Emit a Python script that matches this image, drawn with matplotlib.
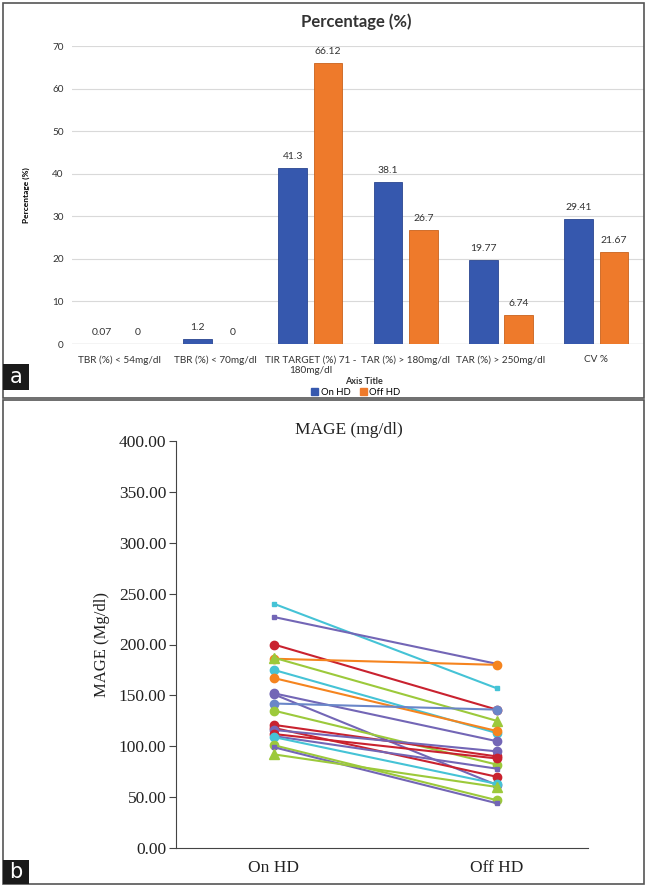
import numpy as np
import matplotlib.pyplot as plt
from matplotlib.patches import Rectangle, Patch

# top chart data
categories = ['TBR (%) < 54mg/dl', 'TBR (%) < 70mg/dl', 'TIR TARGET (%) 71 -\n180mg/dl',
              'TAR (%) > 180mg/dl', 'TAR (%) > 250mg/dl', 'CV %']
on_hd_pct = [0.07, 1.2, 41.3, 38.1, 19.77, 29.41]
off_hd_pct = [0, 0, 66.12, 26.7, 6.74, 21.67]
on_hd_lbl = ['0.07', '1.2', '41.3', '38.1', '19.77', '29.41']
off_hd_lbl = ['0', '0', '66.12', '26.7', '6.74', '21.67']

# bottom chart data (one line per patient)
mage_on = [240, 227, 200, 186, 187, 175, 167, 152, 151, 142, 135, 121, 118, 116, 112, 110, 109, 101, 99, 92]
mage_off = [157, 181, 136, 180, 125, 113, 115, 105, 62, 136, 82, 90, 70, 95, 88, 78, 63, 47, 44, 60]
line_col = ['cyan', 'purple', 'red', 'orange', 'green', 'cyan', 'orange', 'purple', 'purple', 'blue',
            'green', 'red', 'red', 'purple', 'red', 'purple', 'cyan', 'green', 'purple', 'green']
line_mk = ['s', 's', 'o', 'o', '^', 'o', 'o', 'o', 'o', 'o',
           'o', 'o', 'o', 'o', 'o', 's', 'o', 'o', 's', '^']
x_labels = ['On HD', 'Off HD']

palette = {'cyan': '#45C3D6', 'purple': '#7366B6', 'red': '#C9222F', 'green': '#9CC93B',
           'orange': '#F5841F', 'blue': '#6A86C8'}
mk_size = {'s': 3, 'o': 6, '^': 7.5}

blue = '#3658AE'
orange = '#EE7A2B'

fig = plt.figure(figsize=(6.47, 8.86), dpi=100)
W, H = 647, 886

def fx(px):
    return px / W

def fy(py):
    return 1 - py / H

# panel frames
fig.add_artist(Rectangle((fx(3), fy(398)), fx(641), (398 - 3) / H, fill=False,
                         edgecolor='#555555', lw=1.2, transform=fig.transFigure))
fig.add_artist(Rectangle((fx(3), fy(884)), fx(641), (884 - 400) / H, fill=False,
                         edgecolor='#555555', lw=1.2, transform=fig.transFigure))
for lab, y0, y1 in [('a', 364, 390), ('b', 860, 884)]:
    fig.add_artist(Rectangle((fx(3), fy(y1)), fx(26), (y1 - y0) / H, facecolor='#1a1a1a',
                             edgecolor='none', transform=fig.transFigure))
    fig.text(fx(16), fy((y0 + y1) / 2), lab, color='white', fontsize=15,
             ha='center', va='center', family='DejaVu Sans')

# ---- panel a ----
sans = ['Lato', 'DejaVu Sans']
ax1 = fig.add_axes([fx(72), fy(344), fx(644 - 72), (344 - 46) / H])
x = np.arange(len(categories))
w = 0.3
b1 = ax1.bar(x - 0.185, on_hd_pct, w, color=blue, edgecolor='#2a4690', lw=0.6, zorder=3)
b2 = ax1.bar(x + 0.185, off_hd_pct, w, color=orange, edgecolor='#c9621c', lw=0.6, zorder=3)
ax1.bar_label(b1, labels=on_hd_lbl, padding=5, fontsize=7.5, family=sans, color='#333333')
ax1.bar_label(b2, labels=off_hd_lbl, padding=5, fontsize=7.5, family=sans, color='#333333')
ax1.set_ylim(0, 70)
ax1.set_xlim(-0.5, len(categories) - 0.5)
ax1.set_yticks(range(0, 71, 10))
ax1.yaxis.grid(True, color='#d9d9d9', lw=0.8, zorder=0)
ax1.axhline(0, color='#bfbfbf', lw=0.9, zorder=2)
for s in ax1.spines.values():
    s.set_visible(False)
ax1.tick_params(axis='x', length=0, labelsize=7.2, labelcolor='#333333', pad=8)
ax1.tick_params(axis='y', length=0, labelsize=7.2, labelcolor='#333333', pad=6)
ax1.set_xticks(x)
ax1.set_xticklabels(categories, family=sans)
for t in ax1.get_yticklabels():
    t.set_family(sans)
ax1.set_ylabel('Percentage (%)', fontsize=6, fontweight='bold', family=sans, labelpad=16)
fig.text(fx(356), fy(22), 'Percentage (%)', fontsize=12, fontweight='bold',
         family=sans, ha='center', va='center', color='#333333')
fig.text(fx(364), fy(382), 'Axis Title', fontsize=6.5, fontweight='bold',
         family=sans, ha='center', va='center', color='#333333')
fig.legend(handles=[Patch(color=blue, label='On HD'), Patch(color=orange, label='Off HD')],
           loc='center', bbox_to_anchor=(fx(356), fy(392)), ncol=2, frameon=False,
           handlelength=0.7, handleheight=0.7, handletextpad=0.3,
           columnspacing=1.0, prop={'family': sans, 'size': 6.8})

# ---- panel b ----
serif = 'Liberation Serif'
ax2 = fig.add_axes([fx(176), fy(848), fx(588 - 176), (848 - 441) / H])
for a, b, c, m in zip(mage_on, mage_off, line_col, line_mk):
    ax2.plot([0, 1], [a, b], color=palette[c], lw=1.5, marker=m, ms=mk_size[m],
             markeredgecolor=palette[c])
ax2.set_xlim(-0.44, 1.41)
ax2.set_ylim(0, 400)
ax2.set_yticks(range(0, 401, 50))
ax2.set_yticklabels([f'{v:.2f}' for v in range(0, 401, 50)])
ax2.set_xticks([0, 1])
ax2.set_xticklabels(x_labels)
for s in ['top', 'right']:
    ax2.spines[s].set_visible(False)
for s in ['left', 'bottom']:
    ax2.spines[s].set_color('#444444')
ax2.tick_params(axis='y', length=5, color='#444444', labelsize=12.5, pad=2)
ax2.tick_params(axis='x', length=0, labelsize=12.5, pad=9)
for t in ax2.get_xticklabels() + ax2.get_yticklabels():
    t.set_family(serif)
    t.set_color('#222222')
ax2.set_ylabel('MAGE (Mg/dl)', fontsize=12, family=serif, color='#222222')
ax2.yaxis.set_label_coords(-0.16, 0.5)
fig.text(fx(349), fy(430), 'MAGE (mg/dl)', fontsize=12.5, family=serif,
         ha='center', va='center', color='#222222')

fig.savefig('out.png', dpi=100)
